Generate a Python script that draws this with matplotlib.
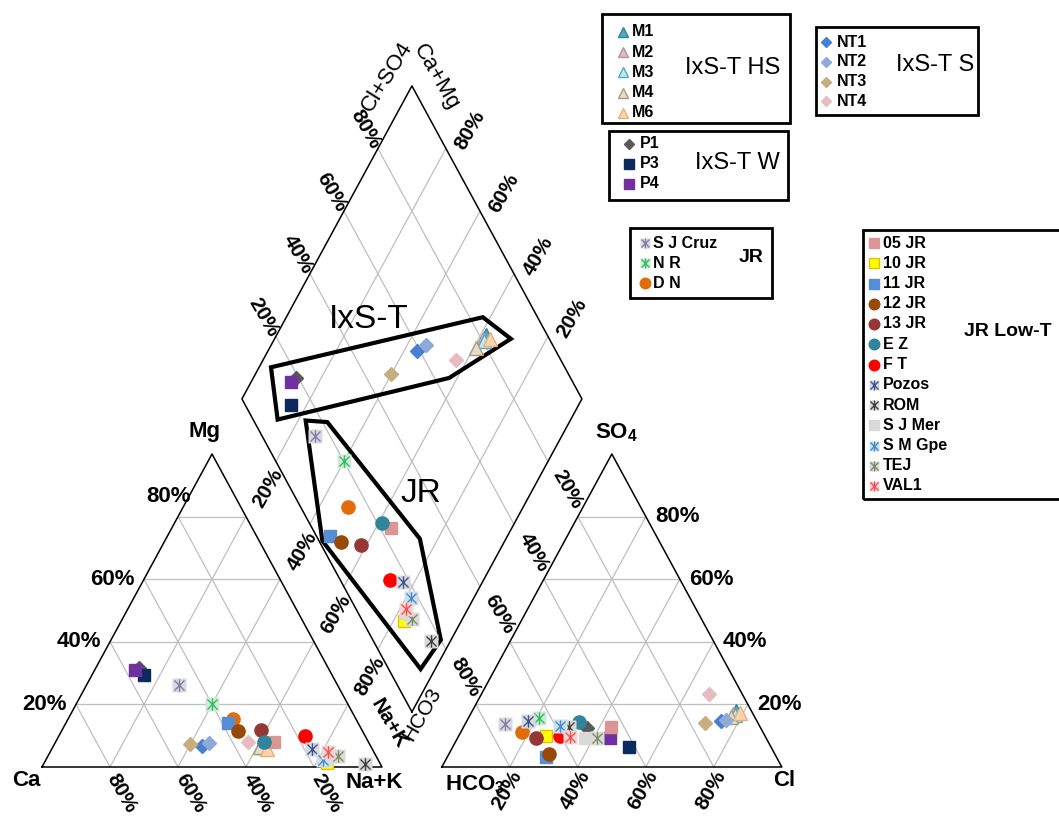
import numpy as np
import matplotlib.pyplot as plt
from matplotlib.path import Path
from matplotlib.patches import Rectangle, Polygon

plt.rcParams['font.family'] = ['Liberation Sans', 'DejaVu Sans']
plt.rcParams['mathtext.fontset'] = 'custom'
plt.rcParams['mathtext.rm'] = 'Liberation Sans:bold'
plt.rcParams['mathtext.it'] = 'Liberation Sans:bold'
plt.rcParams['mathtext.bf'] = 'Liberation Sans:bold'

# ---------------- data (percent of meq) ----------------
names = ['M1', 'M2', 'M3', 'M4', 'M6',
         'NT1', 'NT2', 'NT3', 'NT4',
         'P1', 'P3', 'P4',
         'S J Cruz', 'N R', 'D N',
         '05 JR', '10 JR', '11 JR', '12 JR', '13 JR', 'E Z', 'F T',
         'Pozos', 'ROM', 'S J Mer', 'S M Gpe', 'TEJ', 'VAL1']
group_titles = ['IxS-T HS', 'IxS-T S', 'IxS-T W', 'JR', 'JR Low-T']
group_sizes = [5, 4, 3, 3, 13]

# cations
mg = [7.0, 6.5, 6.5, 6.5, 5.6,
      6.8, 7.6, 7.2, 7.9,
      31.5, 29.5, 31.0,
      26.1, 20.1, 15.3,
      7.9, 1.4, 14.0, 11.5, 11.8, 8.1, 9.9,
      5.6, 1.0, 2.5, 2.2, 3.6, 4.7]
na_k = [61.5, 61.2, 61.8, 60.8, 63.5,
        43.8, 45.4, 39.9, 56.7,
        12.7, 15.3, 11.8,
        27.3, 40.0, 48.6,
        64.4, 83.0, 47.8, 52.0, 58.5, 61.2, 72.4,
        76.5, 94.5, 82.5, 81.6, 85.3, 81.7]
# anions
cl = [77.5, 77.0, 78.0, 77.0, 79.0,
      74.9, 76.2, 70.3, 67.0,
      36.3, 51.7, 45.0,
      11.7, 20.7, 18.0,
      43.2, 25.6, 29.0, 29.4, 23.0, 33.2, 29.8,
      17.8, 31.0, 37.5, 28.2, 40.9, 32.8]
so4 = [17.8, 17.0, 16.5, 16.0, 17.1,
       14.7, 15.0, 14.2, 23.2,
       12.6, 6.5, 9.2,
       13.7, 15.8, 11.3,
       12.9, 9.9, 3.1, 4.2, 9.2, 14.3, 9.9,
       14.8, 12.7, 9.2, 13.1, 9.2, 9.7]
# Cl+SO4 used for the diamond (as plotted in the original)
dia_cl_so4 = [82.0, 80.4, 80.4, 77.1, 82.7,
              59.0, 62.7, 48.0, 69.0,
              19.4, 13.3, 17.1,
              15.6, 20.1, 14.0,
              23.1, 12.1, 4.1, 6.3, 11.7, 21.4, 14.6,
              18.0, 17.0, 14.0, 18.1, 14.9, 14.7]

# field outlines in the diamond: (Na+K %, Cl+SO4 %)
ixst_field = [(3.5, 13.6), (57.8, 83.9), (69.5, 88.7), (57.6, 64.3), (13.8, 7.2)]
jr_field = [(22.2, 15.3), (28.8, 21.4), (74.7, 30.0), (97.0, 20.0), (95.7, 9.4), (46.3, 1.0)]

tick_vals = [20, 40, 60, 80]
tick_labels = ['20%', '40%', '60%', '80%']

# ---------------- styles ----------------
kinds = ['^'] * 5 + ['D'] * 4 + ['D', 's', 's'] + ['star', 'star', 'o'] + \
        ['s', 's', 's', 'o', 'o', 'o', 'o', 'star', 'star', 's', 'star', 'star', 'star']
faces = ['#4bacc6', '#dcbcbc', '#c6e5f5', '#e5dccb', '#fcd5b0',
         '#4a7fd0', '#8eaad8', '#c8ad7f', '#e6bcc0',
         '#595959', '#0d2a5e', '#7030a0',
         '#d9d9e3', '#d5e6da', '#e36c0a',
         '#da9694', '#ffff00', '#558ed5', '#984807', '#953735', '#31849b', '#ff0000',
         '#d6d9e0', '#d9d9d9', '#d9d9d9', '#d3dde8', '#d9dcd3', '#ecd9d9']
edges = ['#31859c', '#b89494', '#4bacc6', '#a89a7c', '#e8b070',
         '#4a7fd0', '#8eaad8', '#c8ad7f', '#e6bcc0',
         '#595959', '#0d2a5e', '#7030a0',
         '#8080a0', '#30c060', '#e36c0a',
         '#da9694', '#e0c000', '#558ed5', '#984807', '#953735', '#31849b', '#ff0000',
         '#3f5488', '#404040', '#d9d9d9', '#3d8fd8', '#7c8c6c', '#ff4d4d']

STAR = Path([(0, -1), (0, 1), (-0.8, -0.8), (0.8, 0.8), (-0.8, 0.8), (0.8, -0.8)],
            [Path.MOVETO, Path.LINETO] * 3)
SIZES = {'^': 9.5, 'D': 7, 's': 9, 'o': 9.5, 'star': 9.5}

GAP = 0.176


def cation_xy(na, m):
    return na + m / 2.0, m


def anion_xy(c, s):
    return 1 + GAP + c + s / 2.0, s


def diamond_xy(na, cs):
    a = 1 - na
    return 1 + GAP / 2.0 + (cs - a) / 2.0, GAP + a + cs


def px(x, y):
    # layout helper: image pixel -> data coords
    return (x - 42) / 340.0, (767 - y) / 313.0


fig = plt.figure(figsize=(10.59, 8.16), dpi=100)
ax = fig.add_axes([0, 0, 1, 1])
ax.set_xlim(-42 / 340.0, 1017 / 340.0)
ax.set_ylim((767 - 816) / 313.0, 767 / 313.0)
ax.axis('off')

GRID = dict(color='#bfbfbf', lw=0.9, zorder=1)
EDGE = dict(color='black', lw=1.1, zorder=2)


def seg(f, p, q, **kw):
    x0, y0 = f(*p)
    x1, y1 = f(*q)
    ax.plot([x0, x1], [y0, y1], **kw)


# grids
for t in tick_vals:
    p = t / 100.0
    seg(cation_xy, (0, p), (1 - p, p), **GRID)
    seg(cation_xy, (p, 0), (p, 1 - p), **GRID)
    seg(cation_xy, (1 - p, 0), (0, 1 - p), **GRID)
    seg(anion_xy, (0, p), (1 - p, p), **GRID)
    seg(anion_xy, (p, 0), (p, 1 - p), **GRID)
    seg(anion_xy, (1 - p, 0), (0, 1 - p), **GRID)
    seg(diamond_xy, (p, 0), (p, 1), **GRID)
    seg(diamond_xy, (0, p), (1, p), **GRID)

for f in (cation_xy, anion_xy):
    xs, ys = zip(*[f(0, 0), f(1, 0), f(0, 1), f(0, 0)])
    ax.plot(xs, ys, **EDGE)
xs, ys = zip(*[diamond_xy(1, 0), diamond_xy(0, 0), diamond_xy(0, 1), diamond_xy(1, 1), diamond_xy(1, 0)])
ax.plot(xs, ys, **EDGE)

# field outlines
for field in (ixst_field, jr_field):
    pts = [diamond_xy(a / 100.0, b / 100.0) for a, b in field]
    ax.add_patch(Polygon(pts, closed=True, fill=False, ec='black', lw=3, zorder=3))

# ---------------- tick labels ----------------
K = 0.72  # px -> pt


def lab(xy, text, dx, dy, rot=0, ha='center', size=16, weight='bold'):
    ax.annotate(text, xy, xytext=(dx * K, dy * K), textcoords='offset points',
                ha=ha, va='center', rotation=rot, rotation_mode='anchor',
                fontsize=size, fontweight=weight)


for t, s in zip(tick_vals, tick_labels):
    p = t / 100.0
    # Mg on left triangle
    if t == 80:
        lab(cation_xy(0, p), s, 13, 20, ha='right')
    else:
        lab(cation_xy(0, p), s, -9, 0, ha='right')
    # Ca along base
    lab(cation_xy(1 - p, 0), s, 12, -26, rot=-60, size=15)
    # SO4 on right triangle
    lab(anion_xy(1 - p, p), s, 9, 0, ha='left')
    # Cl along base
    lab(anion_xy(p, 0), s, -3, -23, rot=60, size=15)
    # diamond
    lab(diamond_xy(0, p), s, -12, 19, rot=-60, size=15)
    lab(diamond_xy(1 - p, 1), s, 24, 18, rot=60, size=15)
    lab(diamond_xy(p, 0), s, -8, -27, rot=60, size=15)
    lab(diamond_xy(1, 1 - p), s, 20, -28, rot=-60, size=15)

# axis names
lab(cation_xy(0, 1), 'Mg', -7, 22)
lab(cation_xy(0, 0), 'Ca', -16, -13)
lab(cation_xy(1, 0), 'Na+K', -8, -16)
lab(anion_xy(0, 0), 'HCO$_3$', 33, -18)
lab(anion_xy(1, 0), 'Cl', 2, -13)
lab(anion_xy(0, 1), 'SO$_4$', 5, 21)
lab(diamond_xy(0, 1), 'Cl+SO4', -25, 9, rot=58, size=16, weight='normal')
lab(diamond_xy(0, 1), 'Ca+Mg', 24, 9, rot=-60, size=16, weight='normal')
lab(diamond_xy(1, 0), 'Na+K', -23, -12, rot=-60, size=15)
lab(diamond_xy(1, 0), 'HCO3', 10, -2, rot=60, size=15, weight='normal')

ax.text(*px(369, 319), 'IxS-T', fontsize=24, ha='center', va='center')
ax.text(*px(421, 494), 'JR', fontsize=24, ha='center', va='center')


# ---------------- samples ----------------
def mark(x, y, kind, face, edge, ms, z):
    if kind == 'star':
        ax.plot(x, y, 's', ms=ms, mfc=face, mec='none', zorder=z, clip_on=False)
        ax.plot(x, y, marker=STAR, ms=ms * 0.95, mec=edge, mfc='none', mew=1.0,
                ls='none', zorder=z + 0.01, clip_on=False)
    else:
        ax.plot(x, y, kind, ms=ms, mfc=face, mec=edge, mew=1.0, zorder=z, clip_on=False)


for i in range(len(names)):
    z = 5 + i * 0.05
    ms = SIZES[kinds[i]]
    pts = [cation_xy(na_k[i] / 100.0, mg[i] / 100.0),
           anion_xy(cl[i] / 100.0, so4[i] / 100.0),
           diamond_xy(na_k[i] / 100.0, dia_cl_so4[i] / 100.0)]
    for x, y in pts:
        mark(x, y, kinds[i], faces[i], edges[i], ms, z)

# ---------------- legends ----------------
legend_boxes = [
    ((602, 14, 790, 123), 623, 632, 32, 20.2, (733, 68), 17, 'normal'),
    ((816, 27, 978, 115), 826, 837, 42, 19.8, (935, 65), 17, 'normal'),
    ((609, 131, 788, 200), 629, 640, 144, 20.0, (737, 163), 17, 'normal'),
    ((630, 228, 772, 298), 645, 653, 243, 20.0, (751, 258), 14, 'bold'),
    ((863, 230, 1080, 499), 874, 883, 243, 20.25, (1008, 332), 14, 'bold'),
]
start = 0
for title, size, box in zip(group_titles, group_sizes, legend_boxes):
    (x0, y0, x1, y1), mx, tx, ty0, step, tpos, tsize, tw = box
    bx, by = px(x0, y1)
    bx1, by1 = px(x1, y0)
    ax.add_patch(Rectangle((bx, by), bx1 - bx, by1 - by, fill=False, ec='black',
                           lw=2, zorder=10, clip_on=False))
    for k in range(size):
        i = start + k
        y = ty0 + k * step
        mark(*px(mx, y), kinds[i], faces[i], edges[i], SIZES[kinds[i]] * 0.8, 11)
        ax.text(*px(tx, y), names[i], fontsize=11.5, fontweight='bold', ha='left', va='center',
                zorder=11)
    ax.text(*px(*tpos), title, fontsize=tsize, fontweight=tw, ha='center', va='center', zorder=11)
    start += size

fig.savefig('out.png', dpi=100)
